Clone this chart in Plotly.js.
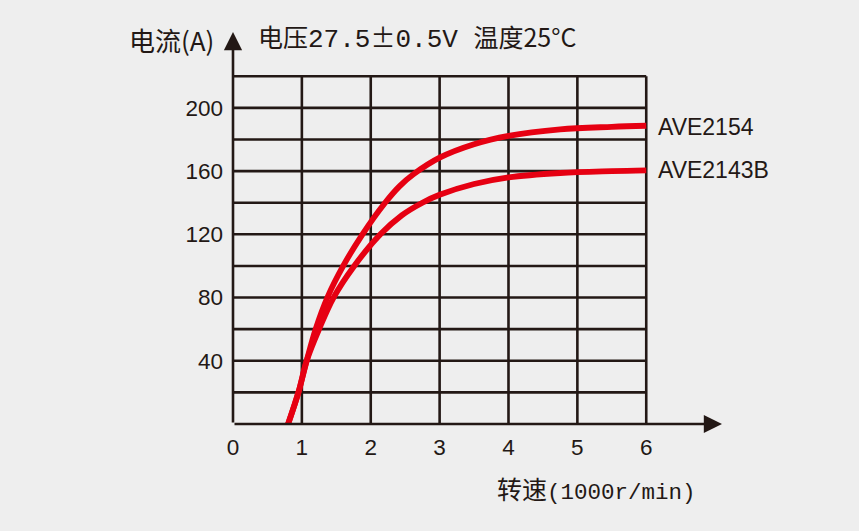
<!DOCTYPE html>
<html>
<head>
<meta charset="utf-8">
<script src="https://cdn.plot.ly/plotly-3.0.1.min.js"></script>
<style>
  html, body { margin: 0; padding: 0; background: #eeeeee; }
  #chart { width: 859px; height: 531px; }
</style>
</head>
<body>
<div id="chart"></div>
<script>
// Data
const speedA = [0.8, 0.95, 1.07, 1.2, 1.37, 1.60, 1.88, 2.2, 2.42, 2.62, 3.0, 3.5, 4.0, 4.75, 5.5, 6.0];
const currentA = [0, 20, 40, 60, 80, 100, 120, 139.5, 150.5, 158, 168.5, 177, 182.3, 186.4, 188, 188.7];
const speedB = [0.8, 0.95, 1.07, 1.25, 1.46, 1.76, 2.14, 2.45, 2.75, 3.0, 3.5, 4.0, 4.75, 5.5, 6.0];
const currentB = [0, 20, 40, 60, 80, 100, 120, 132, 140, 145, 151.8, 156, 158.8, 160, 160.5];
const seriesNames = ['AVE2154', 'AVE2143B'];

const xTicks = [0, 1, 2, 3, 4, 5, 6];
const yTicks = [40, 80, 120, 160, 200];
const xGrid = [1, 2, 3, 4, 5, 6];
const yGrid = [20, 40, 60, 80, 100, 120, 140, 160, 180, 200, 220];

const mono = '\'Liberation Mono\', \'DejaVu Sans Mono\', monospace';
const cjk = '"Noto Sans CJK SC", sans-serif';
const latin = '"Liberation Sans", Arial, sans-serif';

const titleText = '电压<span style="font-family:' + mono + ';font-size:26px">27.5</span>' +
  '<span style="font-size:25px">±</span>' +
  '<span style="font-family:' + mono + ';font-size:26px">0.5V </span>温度25°C';
const yTitleText = '电流(A)';
const xTitleText = '转速<span style="font-family:' + mono + ';font-size:22.5px">(1000r/min)</span>';

const ink = '#231815';
const red = '#e60012';
const gridW = 2.6;
const xMax = 6, yMax = 220;
const xEnd = 7.1, yEnd = 248;

const shapes = [];
xGrid.forEach(v => shapes.push({type: 'line', xref: 'x', yref: 'y', x0: v, x1: v, y0: 0, y1: yMax,
  line: {color: ink, width: gridW}, layer: 'below'}));
yGrid.forEach(v => shapes.push({type: 'line', xref: 'x', yref: 'y', x0: 0, x1: xMax, y0: v, y1: v,
  line: {color: ink, width: gridW}, layer: 'below'}));

const traces = [
  {x: speedA, y: currentA, name: seriesNames[0], mode: 'lines',
   line: {color: red, width: 5.8, shape: 'spline', smoothing: 1}},
  {x: speedB, y: currentB, name: seriesNames[1], mode: 'lines',
   line: {color: red, width: 5.8, shape: 'spline', smoothing: 1}}
];

const annotations = [
  // axis arrows
  {xref: 'x', yref: 'y', axref: 'x', ayref: 'y', x: xEnd, y: 0, ax: 0, ay: 0, text: '',
   showarrow: true, arrowhead: 2, arrowsize: 1.4, arrowwidth: gridW, arrowcolor: ink},
  {xref: 'x', yref: 'y', axref: 'x', ayref: 'y', x: 0, y: yEnd, ax: 0, ay: 0, text: '',
   showarrow: true, arrowhead: 2, arrowsize: 1.4, arrowwidth: gridW, arrowcolor: ink},
  // series labels
  {xref: 'x', yref: 'y', x: speedA[speedA.length - 1], y: currentA[currentA.length - 1],
   text: seriesNames[0], showarrow: false, xanchor: 'left', yanchor: 'middle', xshift: 10, yshift: -1,
   font: {family: latin, size: 23, color: ink}},
  {xref: 'x', yref: 'y', x: speedB[speedB.length - 1], y: currentB[currentB.length - 1],
   text: seriesNames[1], showarrow: false, xanchor: 'left', yanchor: 'middle', xshift: 10, yshift: 0,
   font: {family: latin, size: 23, color: ink}},
  // y title
  {xref: 'paper', yref: 'paper', x: (127 - 233) / 489, y: (424.3 - 40) / 392.3, xanchor: 'left', yanchor: 'middle',
   text: yTitleText, showarrow: false, font: {family: cjk, size: 26, color: ink}},
  // x title
  {xref: 'paper', yref: 'paper', x: (495 - 233) / 489, y: (424.3 - 488) / 392.3, xanchor: 'left', yanchor: 'middle',
   text: xTitleText, showarrow: false, font: {family: cjk, size: 25, color: ink}}
];

const layout = {
  width: 859, height: 531,
  paper_bgcolor: '#eeeeee', plot_bgcolor: '#eeeeee',
  margin: {l: 233, r: 137, t: 32, b: 107, pad: 0},
  showlegend: false,
  title: {text: titleText, x: 258 / 859, xanchor: 'left', xref: 'container',
          y: 1 - 38 / 531, yanchor: 'middle', yref: 'container',
          font: {family: cjk, size: 25, color: ink}},
  xaxis: {range: [0, xEnd], tickmode: 'array', tickvals: xTicks, ticktext: xTicks.map(String),
          showgrid: false, zeroline: false, showline: false, ticks: '',
          ticklabelstandoff: 7,
          tickfont: {family: latin, size: 22.5, color: ink}, fixedrange: true},
  yaxis: {range: [0, yEnd], tickmode: 'array', tickvals: yTicks, ticktext: yTicks.map(String),
          showgrid: false, zeroline: false, showline: false, ticks: '',
          ticklabelstandoff: 9,
          tickfont: {family: latin, size: 22.5, color: ink}, fixedrange: true},
  shapes: shapes,
  annotations: annotations
};

Plotly.newPlot('chart', traces, layout, {displayModeBar: false, staticPlot: true});
</script>
</body>
</html>
